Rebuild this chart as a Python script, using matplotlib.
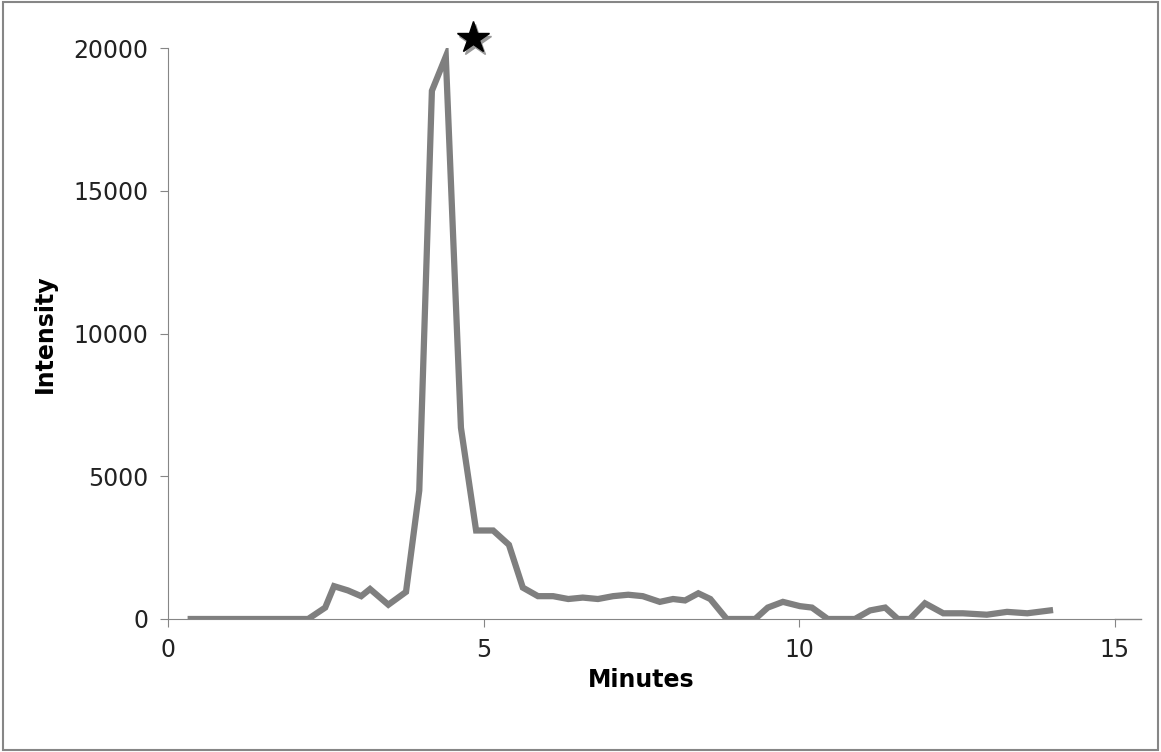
import matplotlib
matplotlib.use('Agg')
import matplotlib.pyplot as plt
from matplotlib.patches import Rectangle

minutes = [0.36, 0.60, 0.84, 1.08, 1.31, 1.55, 1.79, 2.03, 2.22, 2.49, 2.63, 2.85, 3.06, 3.20,
           3.49, 3.77, 3.98, 4.18, 4.40, 4.64, 4.88, 5.15, 5.40, 5.62, 5.86, 6.10, 6.34, 6.57,
           6.81, 7.05, 7.29, 7.52, 7.79, 8.00, 8.19, 8.40, 8.59, 8.85, 9.08, 9.30, 9.50, 9.74,
           10.01, 10.20, 10.45, 10.66, 10.88, 11.12, 11.36, 11.56, 11.75, 11.99, 12.28, 12.59,
           12.97, 13.29, 13.61, 13.97]
intensity = [0, 0, 0, 0, 0, 0, 0, 0, 0, 400, 1150, 1000, 800, 1050,
             500, 950, 4500, 18500, 19700, 6700, 3100, 3100, 2600, 1100, 800, 800, 700, 750,
             700, 800, 850, 800, 600, 700, 650, 900, 700, 0, 0, 0, 400, 600,
             450, 400, 0, 0, 0, 300, 400, 0, 0, 550, 200, 200,
             150, 250, 200, 300]
star_x, star_y = 4.83, 20350

fig = plt.figure(figsize=(11.61, 7.52), dpi=100)
fig.patches.append(Rectangle((0.003, 0.003), 0.994, 0.994, transform=fig.transFigure,
                             fill=False, edgecolor='#868686', linewidth=1.5))
ax = fig.add_axes([168/1161, 1 - 619/752, (1115 - 168)/1161, (619 - 48)/752])
ax.plot(minutes, intensity, color='#7f7f7f', linewidth=4.5, solid_joinstyle='miter')
ax.plot([star_x + 0.03], [star_y - 120], marker='*', markersize=24, color='#999999', clip_on=False)
ax.plot([star_x], [star_y], marker='*', markersize=24, color='black', clip_on=False)
# x axis line runs a bit past the last tick, as in the original
ax.axhline(0, xmin=1, xmax=1.027, color='#868686', linewidth=1, clip_on=False)

ax.set_xlim(0, 15)
ax.set_ylim(0, 20000)
ax.set_xticks([0, 5, 10, 15])
ax.set_yticks([0, 5000, 10000, 15000, 20000])
for s in ['top', 'right']:
    ax.spines[s].set_visible(False)
for s in ['left', 'bottom']:
    ax.spines[s].set_color('#868686')
ax.tick_params(colors='#868686', labelcolor='#222222', labelsize=17, length=6, pad=8)
ax.set_xlabel('Minutes', fontsize=17, fontweight='bold', labelpad=4)
ax.set_ylabel('Intensity', fontsize=17, fontweight='bold', labelpad=12)

fig.savefig('out.png', dpi=100)
